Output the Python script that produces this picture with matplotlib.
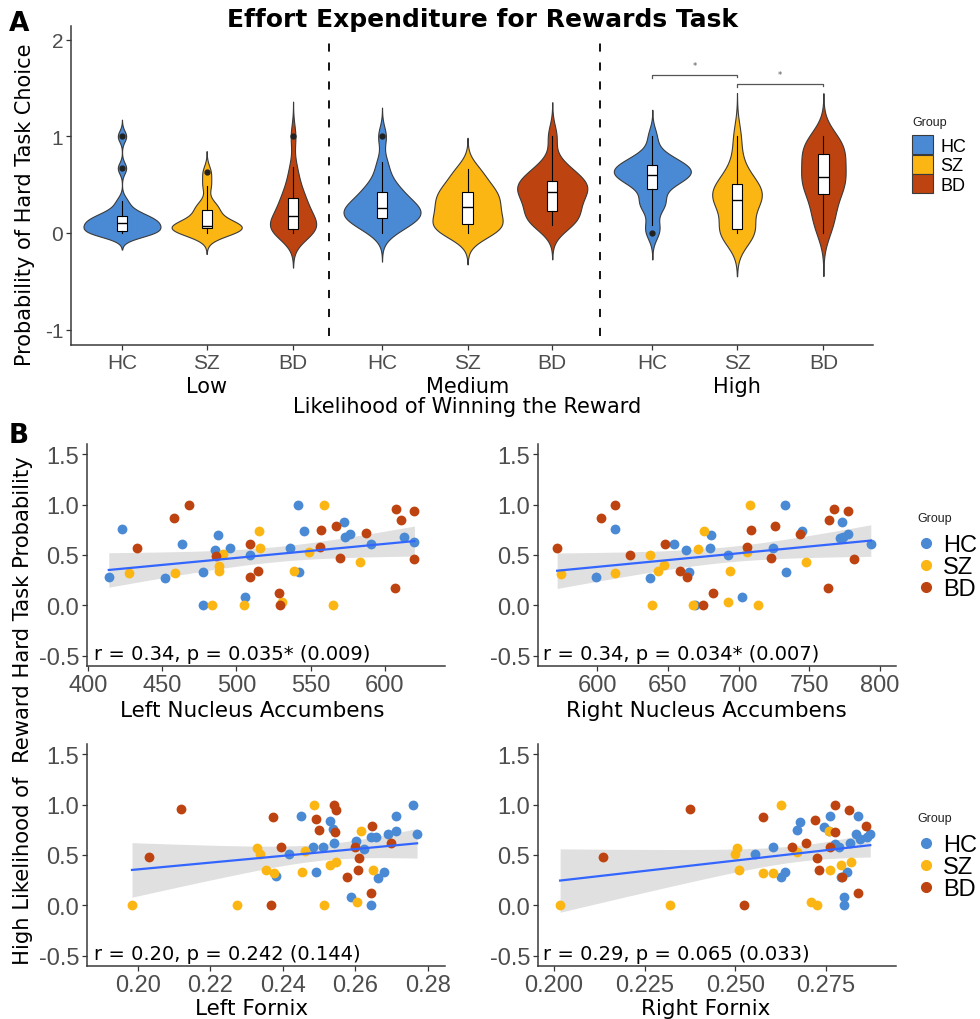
import numpy as np
import matplotlib
matplotlib.use('Agg')
import matplotlib.pyplot as plt
from matplotlib.patches import Patch
from matplotlib.lines import Line2D

W, H = 980, 1020

groups = ['HC', 'SZ', 'BD']
colors = ['#4A8AD4', '#FBB614', '#BD4410']
likelihoods = ['Low', 'Medium', 'High']

# Panel A: per-subject probability of choosing the hard task
low_hc = [0, 0, 0, 0, 0, 0.03, 0.05, 0.08, 0.1, 0.1, 0.1, 0.12, 0.15, 0.17, 0.17, 0.2, 0.25, 0.33, 0.67, 1.0]
low_sz = [0, 0, 0.02, 0.04, 0.05, 0.06, 0.07, 0.07, 0.08, 0.1, 0.15, 0.23, 0.25, 0.3, 0.49, 0.63]
low_bd = [0, 0, 0.02, 0.03, 0.04, 0.05, 0.08, 0.1, 0.15, 0.18, 0.2, 0.25, 0.3, 0.35, 0.38, 0.45, 0.55, 0.68, 1.0]
med_hc = [0, 0.05, 0.1, 0.12, 0.14, 0.15, 0.18, 0.2, 0.22, 0.25, 0.26, 0.28, 0.3, 0.33, 0.38, 0.42, 0.45, 0.5, 0.6, 0.73, 1.0]
med_sz = [0, 0.02, 0.05, 0.06, 0.1, 0.15, 0.2, 0.25, 0.28, 0.32, 0.38, 0.42, 0.44, 0.5, 0.6, 0.66]
med_bd = [0.08, 0.1, 0.12, 0.18, 0.2, 0.25, 0.3, 0.35, 0.4, 0.42, 0.45, 0.48, 0.5, 0.52, 0.56, 0.6, 0.65, 0.72, 1.0]
high_hc = [0, 0.08, 0.27, 0.3, 0.33, 0.45, 0.5, 0.55, 0.57, 0.58, 0.6, 0.62, 0.63, 0.65, 0.67, 0.7, 0.71, 0.74, 0.76, 0.83, 1.0]
high_sz = [0, 0, 0, 0.02, 0.05, 0.3, 0.32, 0.33, 0.35, 0.4, 0.43, 0.5, 0.52, 0.56, 0.74, 1.0]
high_bd = [0, 0.12, 0.17, 0.28, 0.35, 0.46, 0.47, 0.5, 0.57, 0.58, 0.61, 0.72, 0.75, 0.79, 0.85, 0.87, 0.94, 0.96, 1.0]
# widest half-width of each violin (x units)
violin_halfwidth = [0.45, 0.41, 0.27, 0.45, 0.41, 0.41, 0.45, 0.29, 0.26]

# Panel B: (brain measure, high-likelihood hard task probability)
lnacc_hc = [(414, 0.28), (423, 0.76), (452, 0.27), (463.5, 0.61), (477.6, 0.33), (477.6, 0), (485.5, 0.55),
            (487.5, 0.70), (496, 0.57), (505.6, 0.08), (509, 0.50), (536.4, 0.57), (541.5, 1.0), (542, 0.33),
            (545.8, 0.74), (572.7, 0.83), (573.4, 0.68), (576.8, 0.71), (590.7, 0.61), (612.7, 0.68), (619.4, 0.63)]
lnacc_sz = [(427.6, 0.32), (458.5, 0.32), (483.7, 0), (488, 0.39), (488.6, 0.34), (491, 0.51), (505, 0),
            (515, 0.74), (515.7, 0.57), (530.7, 0.03), (538.6, 0.34), (548.7, 0.53), (558.8, 1.0), (564.9, 0),
            (583.1, 0.43)]
lnacc_bd = [(433.2, 0.57), (457.9, 0.87), (468, 1.0), (486, 0.49), (509.5, 0.61), (509, 0.28), (514.6, 0.34),
            (528.5, 0.12), (529.6, 0), (557.2, 0.75), (556.6, 0.58), (567.3, 0.79), (569.5, 0.47), (587.5, 0.72),
            (606.6, 0.17), (607.7, 0.96), (611, 0.85), (620, 0.94), (620, 0.46)]

rnacc_hc = [(599.3, 0.28), (612.9, 0.76), (637.6, 0.27), (654.6, 0.61), (663.1, 0.55), (664.7, 0.33), (669.4, 0),
            (679.5, 0.57), (680.7, 0.70), (692.2, 0.50), (702.6, 0.08), (724.2, 0.57), (732.9, 1.0), (733.6, 0.33),
            (744.7, 0.74), (772.9, 0.83), (771.8, 0.67), (774, 0.68), (777.2, 0.71), (793.4, 0.61)]
rnacc_sz = [(574.8, 0.31), (612.9, 0.32), (637.6, 0.50), (639.1, 0), (643.1, 0.34), (647.1, 0.40), (667.8, 0),
            (671.1, 0.56), (675.8, 0.74), (692.5, 0.03), (694.1, 0.34), (705.9, 0.53), (708.2, 1.0), (713.4, 0),
            (747.8, 0.43)]
rnacc_bd = [(571.8, 0.57), (603.1, 0.87), (612.5, 1.0), (623.1, 0.50), (648.2, 0.61), (658.8, 0.34), (663.5, 0.28),
            (674.8, 0), (681.9, 0.12), (705.9, 0.58), (708.7, 0.75), (722.8, 0.47), (725.9, 0.79), (743.1, 0.71),
            (763.5, 0.17), (764.2, 0.85), (767.5, 0.96), (777.6, 0.94), (781.2, 0.46)]

lfx_hc = [(0.2382, 0.29), (0.2417, 0.51), (0.2449, 0.89), (0.2483, 0.58), (0.2490, 0.33), (0.2512, 0.58),
          (0.2531, 0.84), (0.2538, 0.76), (0.2541, 0.62), (0.2589, 0.08), (0.2602, 0.64), (0.2623, 0.56),
          (0.2644, 0.68), (0.2644, 0), (0.2658, 0.68), (0.2662, 0.27), (0.2678, 0.33), (0.2690, 0.71),
          (0.2713, 0.74), (0.2711, 0.89), (0.2760, 1.0), (0.2770, 0.71)]
lfx_sz = [(0.1984, 0), (0.2274, 0), (0.2328, 0.57), (0.2336, 0.51), (0.2354, 0.35), (0.2375, 0.32), (0.2453, 0.33),
          (0.2460, 0.54), (0.2486, 1.0), (0.2513, 0), (0.2529, 0.40), (0.2547, 0.43), (0.2605, 0.03), (0.2616, 0.74),
          (0.2648, 0.35)]
lfx_bd = [(0.2032, 0.48), (0.2120, 0.96), (0.2368, 0), (0.2372, 0.88), (0.2395, 0.58), (0.2492, 0.86),
          (0.2499, 0.75), (0.2541, 1.0), (0.2547, 0.95), (0.2543, 0.73), (0.2577, 0.28), (0.2598, 0.58),
          (0.2611, 0.47), (0.2607, 0.35), (0.2646, 0.79), (0.2644, 0.12), (0.2697, 0.62)]

rfx_hc = [(0.2553, 0.51), (0.2604, 0.58), (0.2627, 0.28), (0.2638, 0.33), (0.2670, 0.75), (0.2678, 0.83),
          (0.2744, 0.78), (0.2760, 0.89), (0.2758, 0.74), (0.2776, 0.61), (0.2785, 0.58), (0.2790, 0.28),
          (0.2801, 0.08), (0.2801, 0), (0.2808, 0.33), (0.2817, 0.62), (0.2834, 0.71), (0.2838, 0.89),
          (0.2845, 0.66), (0.2863, 0.68), (0.2872, 0.71)]
rfx_sz = [(0.2017, 0), (0.2320, 0), (0.2498, 0.51), (0.2506, 0.57), (0.2509, 0.35), (0.2575, 0.32), (0.2604, 0.32),
          (0.2627, 1.0), (0.2670, 0.53), (0.2710, 0.03), (0.2725, 0), (0.2758, 0.74), (0.2762, 0.35),
          (0.2790, 0.40), (0.2819, 0.43)]
rfx_bd = [(0.2134, 0.48), (0.2375, 0.96), (0.2523, 0), (0.2575, 0.88), (0.2656, 0.58), (0.2696, 0.62),
          (0.2721, 0.85), (0.2725, 0.47), (0.2730, 0.35), (0.2762, 0.58), (0.2774, 1.0), (0.2776, 0.73),
          (0.2794, 0.28), (0.2813, 0.95), (0.2838, 0.12), (0.2860, 0.79)]

stat_labels = ['r = 0.34, p = 0.035* (0.009)', 'r = 0.34, p = 0.034* (0.007)',
               'r = 0.20, p = 0.242 (0.144)', 'r = 0.29, p = 0.065 (0.033)']
xlabels_b = ['Left Nucleus Accumbens', 'Right Nucleus Accumbens', 'Left Fornix', 'Right Fornix']

TICKFONT = 'Liberation Sans'
TXTGRAY = '#4D4D4D'


def fx(px):
    return px / W


def fy(py):
    return 1 - py / H


def px_axes(l, t, r, b):
    return fig.add_axes([l / W, 1 - b / H, (r - l) / W, (b - t) / H])


def style_axes(ax, size):
    for s in ['top', 'right']:
        ax.spines[s].set_visible(False)
    for s in ['left', 'bottom']:
        ax.spines[s].set_color('#3a3a3a')
        ax.spines[s].set_linewidth(1.1)
    ax.tick_params(direction='out', length=3.5, width=0.9, color='#333333',
                   labelcolor=TXTGRAY, labelsize=size, pad=2)
    for lab in ax.get_xticklabels() + ax.get_yticklabels():
        lab.set_fontfamily(TICKFONT)


def kde(vals):
    # gaussian density like R's density() with bw.nrd0, cut = 3
    v = np.asarray(vals, float)
    n = len(v)
    q1, q3 = np.percentile(v, [25, 75])
    bw = 0.9 * min(v.std(ddof=1), (q3 - q1) / 1.34) * n ** -0.2
    grid = np.linspace(v.min() - 3 * bw, v.max() + 3 * bw, 512)
    d = np.exp(-0.5 * ((grid[:, None] - v[None, :]) / bw) ** 2).sum(1) / (n * bw * np.sqrt(2 * np.pi))
    return grid, d


fig = plt.figure(figsize=(W / 100, H / 100), dpi=100)

# ---------------- Panel A ----------------
axA = px_axes(71, 27, 873, 346)
samples = [low_hc, low_sz, low_bd, med_hc, med_sz, med_bd, high_hc, high_sz, high_bd]
xpos = [0, 0.99, 2.0, 3.04, 4.04, 5.03, 6.2, 7.19, 8.2]
seps = [2.42, 5.59]

for i, vals in enumerate(samples):
    g, d = kde(vals)
    hw = violin_halfwidth[i] * d / d.max()
    axA.fill_betweenx(g, xpos[i] - hw, xpos[i] + hw, facecolor=colors[i % 3],
                      edgecolor='#3a3a3a', linewidth=0.8, zorder=2)

axA.boxplot(samples, positions=xpos, widths=0.12, patch_artist=True, manage_ticks=False,
            showcaps=False, zorder=3,
            boxprops=dict(facecolor='white', edgecolor='black', linewidth=0.8),
            medianprops=dict(color='black', linewidth=1.0),
            whiskerprops=dict(color='black', linewidth=0.8),
            flierprops=dict(marker='o', markerfacecolor='#222222', markeredgecolor='#222222', markersize=3.5))

axA.vlines(seps, -1.065, 1.975, colors='black', linewidth=1.3, linestyles=(0, (4.5, 6)), zorder=1)

# significance brackets (High: HC vs SZ, SZ vs BD)
for (a, b), ybar, ystar in [((6, 7), 1.634, 1.73), ((7, 8), 1.54, 1.635)]:
    axA.plot([xpos[a], xpos[a], xpos[b], xpos[b]], [ybar - 0.035, ybar, ybar, ybar - 0.025],
             color='#555555', linewidth=0.9)
    axA.text((xpos[a] + xpos[b]) / 2, ystar, '*', fontsize=6, ha='center', va='center', color='#555555')

axA.set_xlim(-0.596, 8.78)
axA.set_ylim(-1.158, 2.14)
axA.set_xticks(xpos, groups * 3)
axA.set_yticks([-1, 0, 1, 2], ['-1', '0', '1', '2'])
style_axes(axA, 15)
for j, lk in enumerate(likelihoods):
    axA.text(xpos[3 * j + 1], fy(393), lk, transform=matplotlib.transforms.blended_transform_factory(
        axA.transData, fig.transFigure), ha='center', va='baseline', fontsize=15)

fig.text(fx(467), fy(413), 'Likelihood of Winning the Reward', ha='center', va='baseline', fontsize=15)
fig.text(fx(25), fy(205), 'Probability of Hard Task Choice', rotation=90, ha='center', va='center', fontsize=15)
fig.text(fx(482), fy(27), 'Effort Expenditure for Rewards Task', ha='center', va='baseline',
         fontsize=18, fontweight='bold')
fig.text(fx(9), fy(31), 'A', ha='left', va='baseline', fontsize=19, fontweight='bold')

fig.text(fx(912), fy(123), 'Group', ha='left', va='center', fontsize=9, family=TICKFONT, color='#222222')
fig.legend(handles=[Patch(facecolor=c, edgecolor='#3a3a3a', linewidth=0.8, label=g)
                    for g, c in zip(groups, colors)],
           loc='upper left', bbox_to_anchor=(fx(912), fy(136)), frameon=False,
           prop={'family': TICKFONT, 'size': 13},
           handlelength=1.17, handleheight=1.25, labelspacing=0.0, handletextpad=0.4,
           borderpad=0, borderaxespad=0)

# ---------------- Panel B ----------------
axTL = px_axes(87, 445, 445, 667)
axTR = px_axes(538, 445, 896, 667)
axBL = px_axes(87, 745, 445, 967)
axBR = px_axes(538, 745, 896, 967)

panels = [
    (axTL, [lnacc_hc, lnacc_sz, lnacc_bd], (399.3, 640.6), [400, 450, 500, 550, 600], '{:.0f}', 252, 717, 94, 660),
    (axTR, [rnacc_hc, rnacc_sz, rnacc_bd], (558.3, 811.2), [600, 650, 700, 750, 800], '{:.0f}', 706, 717, 543, 660),
    (axBL, [lfx_hc, lfx_sz, lfx_bd], (0.186, 0.2847), [0.20, 0.22, 0.24, 0.26, 0.28], '{:.2f}', 252, 1015, 94, 960),
    (axBR, [rfx_hc, rfx_sz, rfx_bd], (0.1956, 0.2943), [0.200, 0.225, 0.250, 0.275], '{:.3f}', 706, 1015, 543, 960),
]

for k, (ax, sets, xl, xt, fmt, lab_x, lab_y, st_x, st_y) in enumerate(panels):
    allx = np.concatenate([np.array(s)[:, 0] for s in sets])
    ally = np.concatenate([np.array(s)[:, 1] for s in sets])
    n = len(allx)
    slope, icpt = np.polyfit(allx, ally, 1)
    xs = np.linspace(allx.min(), allx.max(), 100)
    yh = icpt + slope * xs
    resid = ally - (icpt + slope * allx)
    s = np.sqrt((resid ** 2).sum() / (n - 2))
    se = s * np.sqrt(1 / n + (xs - allx.mean()) ** 2 / ((allx - allx.mean()) ** 2).sum())
    ax.fill_between(xs, yh - 2.0 * se, yh + 2.0 * se, color='#999999', alpha=0.3, linewidth=0, zorder=1)
    for pts, c in zip(sets, colors):
        p = np.array(pts)
        ax.scatter(p[:, 0], p[:, 1], s=50, color=c, linewidths=0, zorder=2)
    ax.plot(xs, yh, color='#3366FF', linewidth=1.6, zorder=3)
    ax.set_xlim(*xl)
    ax.set_ylim(-0.6, 1.6)
    ax.set_xticks(xt, [fmt.format(v) for v in xt])
    ax.set_yticks([-0.5, 0, 0.5, 1.0, 1.5], ['-0.5', '0.0', '0.5', '1.0', '1.5'])
    style_axes(ax, 17)
    fig.text(fx(lab_x), fy(lab_y), xlabels_b[k], ha='center', va='baseline', fontsize=15.5)
    fig.text(fx(st_x), fy(st_y), stat_labels[k], ha='left', va='baseline', fontsize=14)

for off in [0, 300]:
    fig.text(fx(917), fy(519 + off), 'Group', ha='left', va='center', fontsize=9, family=TICKFONT, color='#222222')
    fig.legend(handles=[Line2D([0], [0], marker='o', linestyle='', markersize=7, markerfacecolor=c,
                               markeredgecolor=c, label=g) for g, c in zip(groups, colors)],
               loc='upper left', bbox_to_anchor=(fx(917), fy(535 + off)), frameon=False,
               prop={'family': TICKFONT, 'size': 17},
               handlelength=0.8, labelspacing=0.0, handletextpad=0.3,
               borderpad=0, borderaxespad=0)

fig.text(fx(23), fy(711), 'High Likelihood of  Reward Hard Task Probability', rotation=90,
         ha='center', va='center', fontsize=15.2)
fig.text(fx(9), fy(443), 'B', ha='left', va='baseline', fontsize=19, fontweight='bold')

fig.savefig('out.png', dpi=100)
